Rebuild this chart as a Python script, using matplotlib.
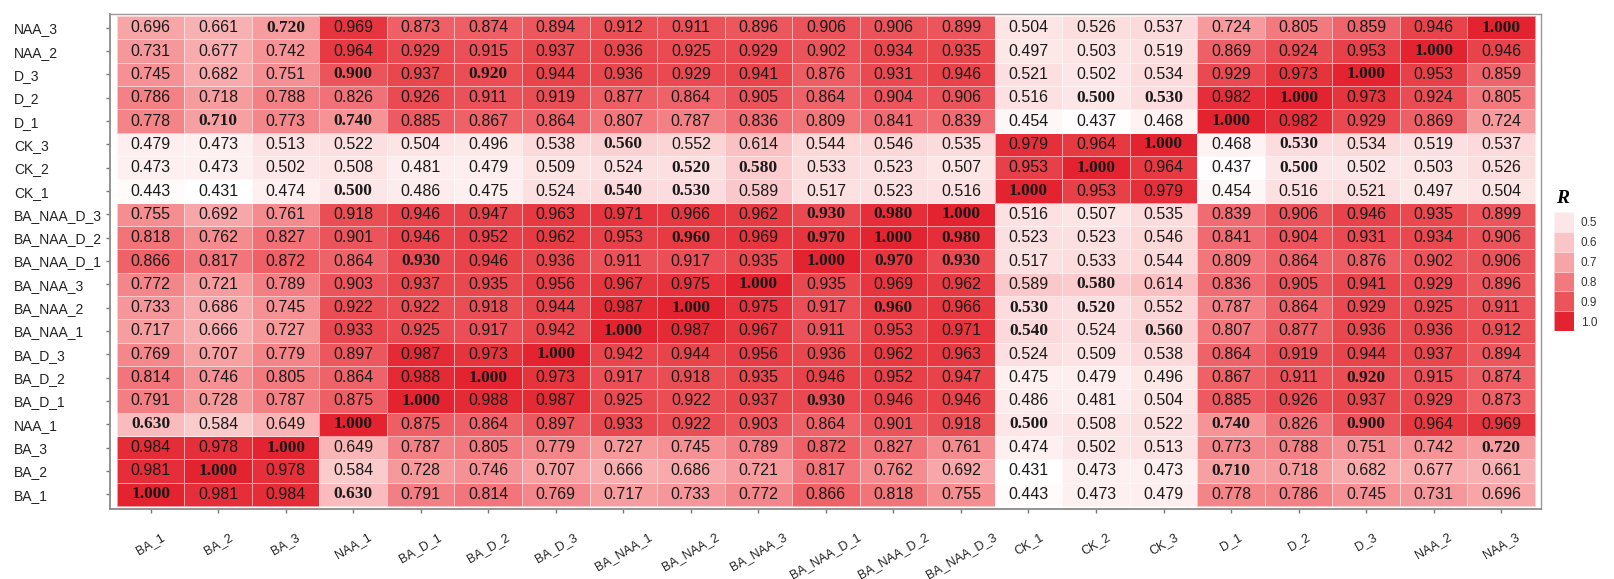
import numpy as np
import matplotlib
matplotlib.use("Agg")
import matplotlib.pyplot as plt
from matplotlib.colors import LinearSegmentedColormap, Normalize

# sample order (x axis left->right, y axis bottom->top)
labels = ["BA_1", "BA_2", "BA_3", "NAA_1", "BA_D_1", "BA_D_2", "BA_D_3",
          "BA_NAA_1", "BA_NAA_2", "BA_NAA_3", "BA_NAA_D_1", "BA_NAA_D_2",
          "BA_NAA_D_3", "CK_1", "CK_2", "CK_3", "D_1", "D_2", "D_3",
          "NAA_2", "NAA_3"]

# correlation values, rows (NAA_3 first)
r_values = [
    [0.696, 0.661, 0.720, 0.969, 0.873, 0.874, 0.894, 0.912, 0.911, 0.896, 0.906, 0.906, 0.899, 0.504, 0.526, 0.537, 0.724, 0.805, 0.859, 0.946, 1.000],
    [0.731, 0.677, 0.742, 0.964, 0.929, 0.915, 0.937, 0.936, 0.925, 0.929, 0.902, 0.934, 0.935, 0.497, 0.503, 0.519, 0.869, 0.924, 0.953, 1.000, 0.946],
    [0.745, 0.682, 0.751, 0.900, 0.937, 0.920, 0.944, 0.936, 0.929, 0.941, 0.876, 0.931, 0.946, 0.521, 0.502, 0.534, 0.929, 0.973, 1.000, 0.953, 0.859],
    [0.786, 0.718, 0.788, 0.826, 0.926, 0.911, 0.919, 0.877, 0.864, 0.905, 0.864, 0.904, 0.906, 0.516, 0.500, 0.530, 0.982, 1.000, 0.973, 0.924, 0.805],
    [0.778, 0.710, 0.773, 0.740, 0.885, 0.867, 0.864, 0.807, 0.787, 0.836, 0.809, 0.841, 0.839, 0.454, 0.437, 0.468, 1.000, 0.982, 0.929, 0.869, 0.724],
    [0.479, 0.473, 0.513, 0.522, 0.504, 0.496, 0.538, 0.560, 0.552, 0.614, 0.544, 0.546, 0.535, 0.979, 0.964, 1.000, 0.468, 0.530, 0.534, 0.519, 0.537],
    [0.473, 0.473, 0.502, 0.508, 0.481, 0.479, 0.509, 0.524, 0.520, 0.580, 0.533, 0.523, 0.507, 0.953, 1.000, 0.964, 0.437, 0.500, 0.502, 0.503, 0.526],
    [0.443, 0.431, 0.474, 0.500, 0.486, 0.475, 0.524, 0.540, 0.530, 0.589, 0.517, 0.523, 0.516, 1.000, 0.953, 0.979, 0.454, 0.516, 0.521, 0.497, 0.504],
    [0.755, 0.692, 0.761, 0.918, 0.946, 0.947, 0.963, 0.971, 0.966, 0.962, 0.930, 0.980, 1.000, 0.516, 0.507, 0.535, 0.839, 0.906, 0.946, 0.935, 0.899],
    [0.818, 0.762, 0.827, 0.901, 0.946, 0.952, 0.962, 0.953, 0.960, 0.969, 0.970, 1.000, 0.980, 0.523, 0.523, 0.546, 0.841, 0.904, 0.931, 0.934, 0.906],
    [0.866, 0.817, 0.872, 0.864, 0.930, 0.946, 0.936, 0.911, 0.917, 0.935, 1.000, 0.970, 0.930, 0.517, 0.533, 0.544, 0.809, 0.864, 0.876, 0.902, 0.906],
    [0.772, 0.721, 0.789, 0.903, 0.937, 0.935, 0.956, 0.967, 0.975, 1.000, 0.935, 0.969, 0.962, 0.589, 0.580, 0.614, 0.836, 0.905, 0.941, 0.929, 0.896],
    [0.733, 0.686, 0.745, 0.922, 0.922, 0.918, 0.944, 0.987, 1.000, 0.975, 0.917, 0.960, 0.966, 0.530, 0.520, 0.552, 0.787, 0.864, 0.929, 0.925, 0.911],
    [0.717, 0.666, 0.727, 0.933, 0.925, 0.917, 0.942, 1.000, 0.987, 0.967, 0.911, 0.953, 0.971, 0.540, 0.524, 0.560, 0.807, 0.877, 0.936, 0.936, 0.912],
    [0.769, 0.707, 0.779, 0.897, 0.987, 0.973, 1.000, 0.942, 0.944, 0.956, 0.936, 0.962, 0.963, 0.524, 0.509, 0.538, 0.864, 0.919, 0.944, 0.937, 0.894],
    [0.814, 0.746, 0.805, 0.864, 0.988, 1.000, 0.973, 0.917, 0.918, 0.935, 0.946, 0.952, 0.947, 0.475, 0.479, 0.496, 0.867, 0.911, 0.920, 0.915, 0.874],
    [0.791, 0.728, 0.787, 0.875, 1.000, 0.988, 0.987, 0.925, 0.922, 0.937, 0.930, 0.946, 0.946, 0.486, 0.481, 0.504, 0.885, 0.926, 0.937, 0.929, 0.873],
    [0.630, 0.584, 0.649, 1.000, 0.875, 0.864, 0.897, 0.933, 0.922, 0.903, 0.864, 0.901, 0.918, 0.500, 0.508, 0.522, 0.740, 0.826, 0.900, 0.964, 0.969],
    [0.984, 0.978, 1.000, 0.649, 0.787, 0.805, 0.779, 0.727, 0.745, 0.789, 0.872, 0.827, 0.761, 0.474, 0.502, 0.513, 0.773, 0.788, 0.751, 0.742, 0.720],
    [0.981, 1.000, 0.978, 0.584, 0.728, 0.746, 0.707, 0.666, 0.686, 0.721, 0.817, 0.762, 0.692, 0.431, 0.473, 0.473, 0.710, 0.718, 0.682, 0.677, 0.661],
    [1.000, 0.981, 0.984, 0.630, 0.791, 0.814, 0.769, 0.717, 0.733, 0.772, 0.866, 0.818, 0.755, 0.443, 0.473, 0.479, 0.778, 0.786, 0.745, 0.731, 0.696],
]

legend_levels = [0.5, 0.6, 0.7, 0.8, 0.9, 1.0]

plt.rcParams['font.family'] = ['Liberation Sans', 'DejaVu Sans']

Z = np.array(r_values)[::-1]          # row 0 = BA_1 at the bottom
n = len(labels)

norm = Normalize(vmin=Z.min(), vmax=1.0)
# colour anchors picked from the reference swatches
anchors = [(Z.min(), "#ffffff"), (0.5, "#fde6e7"), (0.7, "#f7a4a6"),
           (0.8, "#f27b80"), (0.9, "#ec555c"), (0.95, "#e8424a"), (1.0, "#e3232f")]
cmap = LinearSegmentedColormap.from_list(
    "wr", [(float(norm(v)), c) for v, c in anchors])

fig = plt.figure(figsize=(16.14, 5.79), dpi=100)
ax = fig.add_axes([0.0682, 0.1209, 0.8866, 0.855])

ax.pcolormesh(np.arange(n + 1), np.arange(n + 1), Z, cmap=cmap, norm=norm,
              edgecolors=(1, 1, 1, 0.55), linewidth=0.6)

for i in range(n):
    for j in range(n):
        s = f"{Z[i, j]:.3f}"
        if s.endswith("0"):
            ax.text(j + 0.5, i + 0.5, s, ha='center', va='center',
                    fontsize=12.5, family=['Liberation Serif', 'DejaVu Serif'],
                    color='#1a1a1a', fontweight='bold')
        else:
            ax.text(j + 0.5, i + 0.5, s, ha='center', va='center',
                    fontsize=11.5, color='#1a1a1a')

ax.set_xlim(-0.10, n + 0.09)
ax.set_ylim(-0.13, n + 0.09)
ax.set_xticks(np.arange(n) + 0.5)
ax.set_yticks(np.arange(n) + 0.5)
ax.set_xticklabels(labels, rotation=30, ha='center', fontsize=9, color='#222222')
ax.set_yticklabels(labels, ha='left', fontsize=10, color='#222222')
ax.tick_params(axis='x', length=3, width=1, color='#777777', pad=13)
ax.tick_params(axis='y', length=3, width=1, color='#777777', pad=66)

for sp in ax.spines.values():
    sp.set_color('#999999')
    sp.set_linewidth(1.0)
ax.spines['left'].set_color('#8a8a8a')
ax.spines['bottom'].set_color('#8a8a8a')
ax.spines['left'].set_linewidth(1.3)
ax.spines['bottom'].set_linewidth(1.3)

# discrete legend for R (0.5 at the top)
cax = fig.add_axes([0.9628, 0.4283, 0.0124, 0.2055])
lv = np.array(legend_levels).reshape(-1, 1)
cax.pcolormesh(np.arange(2), np.arange(len(legend_levels) + 1), lv,
               cmap=cmap, norm=norm, edgecolors=(1, 1, 1, 0.55), linewidth=0.6)
cax.set_xlim(0, 1)
cax.set_ylim(len(legend_levels), 0)
cax.set_xticks([])
cax.yaxis.tick_right()
cax.set_yticks(np.arange(len(legend_levels)) + 0.5)
cax.set_yticklabels([f"{v:.1f}" for v in legend_levels], fontsize=8.5, color='#333333')
cax.tick_params(axis='y', length=0, pad=5)
for sp in cax.spines.values():
    sp.set_visible(False)

fig.text(0.9684, 0.658, "R", ha='center', va='center', fontsize=14,
         style='italic', fontweight='bold',
         family=['Liberation Serif', 'DejaVu Serif'])

fig.savefig("out.png", dpi=100)
